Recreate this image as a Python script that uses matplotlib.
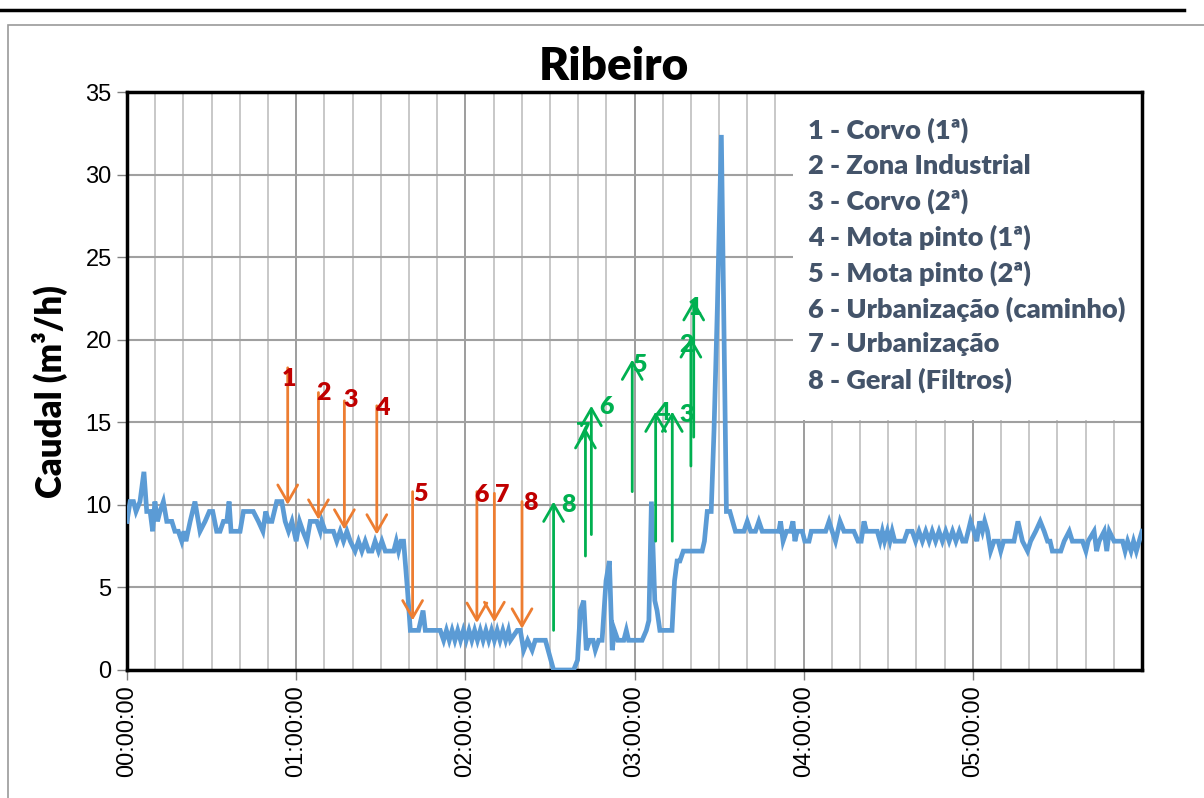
import matplotlib
matplotlib.use("Agg")
import matplotlib.pyplot as plt
from matplotlib.lines import Line2D
from matplotlib.patches import Rectangle
from matplotlib.ticker import MultipleLocator, FuncFormatter

# caudal medido (minutos desde 00:00:00, m3/h)
minutos = [0, 1.1, 2.3, 3.2, 4.6, 6.0, 7.0, 8.2, 9.1, 9.9, 10.8, 11.7, 12.9, 14.1, 15.9,
           17.0, 18.2, 19.4, 20.2, 20.9, 22.4, 24.1, 25.9, 27.7, 29.2, 30.4, 31.8, 33.0,
           34.2, 35.4, 36.2, 36.9, 40.1, 41.3, 44.8, 46.6, 48.2, 49.2, 50.2, 51.4, 53.1,
           54.9, 56.1, 57.3, 58.5, 60.0, 61.2, 62.4, 63.8, 65.0, 67.3, 68.5, 69.1, 70.3,
           73.2, 74.4, 75.6, 76.8, 78.0, 79.2, 80.9, 82.1, 83.3, 84.5, 85.7, 86.9, 88.0,
           89.2, 90.4, 91.6, 94.6, 95.5, 96.3, 97.2, 98.1, 99.5, 100.5, 103.4, 105.0,
           105.8, 111.1, 112.3, 113.3, 114.3, 115.3, 116.3, 117.3, 118.3, 119.3, 120.3,
           121.3, 122.3, 123.3, 124.3, 125.3, 126.3, 127.3, 128.3, 129.3, 130.3, 131.3,
           132.3, 133.3, 134.3, 135.3, 136.0, 138.4, 139.5, 140.7, 142.1, 143.7, 144.8,
           146.6, 148.4, 151.3, 158.4, 159.8, 160.8, 162.0, 162.9, 164.1, 165.3, 166.1,
           167.3, 168.5, 169.9, 171.1, 172.1, 172.9, 174.1, 176.2, 177.1, 177.9, 182.7,
           184.2, 185.1, 186.0, 187.2, 188.0, 189.0, 193.3, 194.2, 195.1, 196.1, 197.3,
           204.0, 204.8, 205.8, 207.2, 208.2, 209.4, 210.8, 211.8, 212.6, 213.8, 215.8,
           217.6, 218.8, 220.0, 221.2, 222.9, 224.1, 225.3, 231.2, 231.8, 232.7, 233.9,
           235.3, 236.2, 236.9, 237.7, 239.5, 240.4, 241.9, 242.7, 247.8, 249.0, 250.1,
           251.3, 252.9, 254.3, 257.8, 259.3, 260.4, 261.4, 262.3, 266.1, 267.1, 267.9,
           268.7, 269.7, 270.6, 271.4, 272.3, 275.6, 276.8, 278.5, 279.7, 280.9, 282.1,
           283.3, 284.5, 285.6, 286.8, 288.0, 289.2, 290.4, 291.6, 292.8, 294.0, 295.2,
           296.4, 297.5, 299.2, 300.4, 301.4, 302.4, 303.4, 304.2, 305.2, 306.3, 307.5,
           309.0, 309.9, 310.9, 314.6, 316.0, 317.6, 319.4, 320.5, 322.3, 323.9, 325.3,
           326.5, 327.4, 328.2, 331.2, 332.4, 334.2, 335.3, 338.9, 340.1, 340.9, 343.0,
           343.9, 344.8, 346.6, 347.5, 348.4, 350.1, 353.1, 354.0, 354.9, 356.1, 357.0,
           358.0, 359.0, 360.0]
caudal = [9.0, 10.2, 10.2, 9.6, 10.2, 12.0, 9.6, 9.6, 8.4, 10.2, 9.0, 9.6, 10.2, 9.0, 9.0,
          8.4, 8.4, 7.8, 8.4, 7.8, 9.0, 10.2, 8.4, 9.0, 9.6, 9.6, 8.4, 8.4,
          9.0, 9.0, 10.2, 8.4, 8.4, 9.6, 9.6, 9.0, 8.4, 9.6, 9.0, 9.0, 10.2,
          10.2, 9.0, 8.4, 9.0, 7.8, 9.0, 8.4, 7.8, 9.0, 9.0, 8.4, 9.0, 8.4,
          8.4, 7.8, 8.4, 7.8, 8.4, 7.8, 7.2, 7.8, 7.2, 7.8, 7.2, 7.2, 7.8,
          7.2, 7.8, 7.2, 7.2, 7.8, 7.2, 7.8, 7.8, 4.8, 2.4, 2.4, 3.6,
          2.4, 2.4, 1.8, 2.4, 1.8, 2.4, 1.8, 2.4, 1.8, 2.4, 1.8,
          2.4, 1.8, 2.4, 1.8, 2.4, 1.8, 2.4, 1.8, 2.4, 1.8, 2.4,
          1.8, 2.4, 1.8, 2.4, 1.8, 2.4, 2.4, 1.2, 1.8, 1.2, 1.8,
          1.8, 1.8, 0.0, 0.0, 0.6, 3.6, 4.2, 1.2, 1.8, 1.8, 1.2,
          1.8, 1.8, 5.4, 6.6, 1.2, 2.4, 1.8, 1.8, 2.4, 1.8, 1.8,
          2.4, 3.0, 10.2, 4.2, 3.6, 2.4, 2.4, 5.4, 6.6, 6.6, 7.2,
          7.2, 7.8, 9.6, 9.6, 14.5, 22.0, 32.4, 20.0, 9.6, 9.6, 8.4,
          8.4, 8.4, 9.0, 8.4, 8.4, 9.0, 8.4, 8.4, 9.0, 7.8, 8.4,
          8.4, 9.0, 7.8, 8.4, 8.4, 7.8, 7.8, 8.4, 8.4, 9.0, 8.4,
          7.8, 9.0, 8.4, 8.4, 7.8, 7.8, 9.0, 8.4, 8.4, 7.8, 8.4,
          7.8, 8.4, 7.8, 8.4, 7.8, 7.8, 8.4, 8.4, 7.8, 8.4, 7.8,
          8.4, 7.8, 8.4, 7.8, 8.4, 7.8, 8.4, 7.8, 8.4, 7.8, 8.4,
          7.8, 7.8, 9.0, 8.4, 7.8, 9.0, 8.4, 9.0, 8.4, 7.2, 7.8,
          7.8, 7.2, 7.8, 7.8, 9.0, 7.8, 7.2, 7.8, 8.4, 9.0, 8.4,
          7.8, 7.8, 7.2, 7.2, 7.8, 8.4, 7.8, 7.8, 7.2, 7.8, 8.4,
          7.2, 7.8, 8.4, 7.2, 8.4, 7.8, 7.8, 7.2, 7.8, 7.2, 7.8,
          7.2, 7.8, 8.4]

# fecho (setas para baixo): posicao, inicio, ponta
fecho_x = [57.0, 67.9, 77.1, 88.6, 101.3, 124.1, 130.3, 140.1]
fecho_topo = [18.3, 16.8, 16.3, 16.0, 10.8, 10.8, 10.7, 10.2]
fecho_ponta = [10.0, 9.1, 8.5, 8.2, 3.0, 2.85, 2.9, 2.5]
fecho_lbl_x = [57.5, 69.6, 79.5, 90.5, 104.0, 125.8, 133.0, 143.1]
fecho_lbl_y = [17.6, 16.8, 16.35, 15.85, 10.65, 10.6, 10.6, 10.1]

# abertura (setas para cima): numero, posicao, base, ponta
abre_n = ["8", "7", "6", "5", "4", "3", "2", "1"]
abre_x = [151.3, 162.6, 164.7, 179.2, 187.5, 193.4, 200.0, 201.0]
abre_base = [2.4, 6.9, 8.2, 10.8, 7.8, 7.8, 12.35, 14.1]
abre_ponta = [10.2, 14.65, 16.0, 18.8, 15.65, 15.65, 20.15, 22.4]
abre_lbl_x = [156.5, 161.9, 170.0, 181.8, 189.9, 198.4, 198.4, 201.6]
abre_lbl_y = [10.0, 14.35, 15.9, 18.45, 15.55, 15.45, 19.65, 21.95]

legenda = ["1 - Corvo (1ª)", "2 - Zona Industrial", "3 - Corvo (2ª)",
           "4 - Mota pinto (1ª)", "5 - Mota pinto (2ª)",
           "6 - Urbanização (caminho)", "7 - Urbanização", "8 - Geral (Filtros)"]

BOLD = ["Lato", "DejaVu Sans"]
TICK = ["Liberation Sans", "DejaVu Sans"]

fig = plt.figure(figsize=(12.04, 7.98), dpi=100)
ax = fig.add_axes([127 / 1204, 1 - 670 / 798, (1142 - 127) / 1204, (670 - 92) / 798])

# moldura da pagina
fig.add_artist(Line2D([0, 0.983], [0.9875, 0.9875], color="black", lw=2.5))
fig.add_artist(Rectangle((8 / 1204, -0.01), 1.0, 0.99 - 0.0115, fill=False,
                         edgecolor="#9a9a9a", lw=1.2))

ax.plot(minutos, caudal, color="#5B9BD5", lw=3.4, zorder=5, solid_joinstyle="miter")

ax.set_xlim(0, 360)
ax.set_ylim(0, 35)
ax.xaxis.set_major_locator(MultipleLocator(60))
ax.xaxis.set_minor_locator(MultipleLocator(10))
ax.yaxis.set_major_locator(MultipleLocator(5))
ax.set_xticks(range(0, 360, 60))


def hms(v, pos):
    m = int(round(v))
    return "%02d:%02d:00" % (m // 60, m % 60)


ax.xaxis.set_major_formatter(FuncFormatter(hms))
ax.grid(which="minor", axis="x", color="#c8c8c8", lw=1.4)
ax.grid(which="major", axis="x", color="#8c8c8c", lw=1.2)
ax.grid(which="major", axis="y", color="#a0a0a0", lw=1.5)
ax.set_axisbelow(True)

for lbl in ax.get_xticklabels():
    lbl.set_rotation(90)
ax.tick_params(axis="both", which="major", labelsize=17, length=7, width=1,
               color="#808080", pad=4)
ax.tick_params(axis="x", which="minor", length=0)
for lbl in ax.get_xticklabels() + ax.get_yticklabels():
    lbl.set_family(TICK)

for s in ax.spines.values():
    s.set_color("black")
    s.set_linewidth(2.5)

# caixa da legenda
ax.add_patch(Rectangle((236.1, 15.13), 123.9, 19.87, facecolor="white",
                       edgecolor="none", zorder=2))
for i, t in enumerate(legenda):
    ax.text(241.7, 32.69 - 2.163 * i, t, fontsize=19.5, fontweight="heavy",
            color="#44546A", family=BOLD, va="center", ha="left", zorder=6)

for x, a, b, lx, ly, n in zip(fecho_x, fecho_topo, fecho_ponta, fecho_lbl_x,
                               fecho_lbl_y, range(1, 9)):
    ax.annotate("", xy=(x, b), xytext=(x, a), zorder=7,
                arrowprops=dict(arrowstyle="->,head_length=0.95,head_width=0.55",
                                color="#ED7D31", lw=2, shrinkA=0, shrinkB=0,
                                mutation_scale=13))
    ax.text(lx, ly, str(n), fontsize=18, fontweight="heavy", color="#C00000",
            family=BOLD, ha="center", va="center", zorder=8)

for n, x, a, b, lx, ly in zip(abre_n, abre_x, abre_base, abre_ponta, abre_lbl_x,
                               abre_lbl_y):
    ax.annotate("", xy=(x, b), xytext=(x, a), zorder=7,
                arrowprops=dict(arrowstyle="->,head_length=0.95,head_width=0.55",
                                color="#00B050", lw=2, shrinkA=0, shrinkB=0,
                                mutation_scale=13))
    ax.text(lx, ly, n, fontsize=18, fontweight="heavy", color="#00B050",
            family=BOLD, ha="center", va="center", zorder=8)

fig.text(614 / 1204, 1 - 66 / 798, "Ribeiro", fontsize=33, fontweight="heavy",
         family=BOLD, ha="center", va="center")
fig.text(50 / 1204, 1 - 392 / 798, "Caudal (m³/h)", fontsize=25, fontweight="heavy",
         family=BOLD, ha="center", va="center", rotation=90)

fig.savefig("out.png", dpi=100)
